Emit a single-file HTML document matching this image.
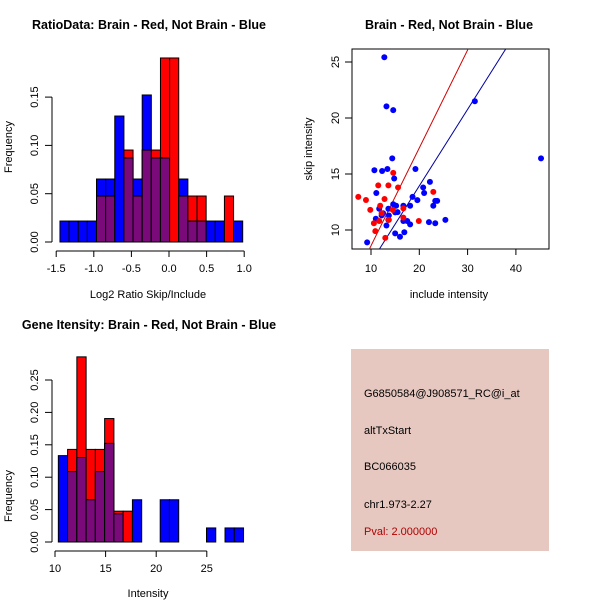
<!DOCTYPE html>
<html><head><meta charset="utf-8"><style>
body{margin:0;background:#fff}
svg{display:block;font-family:"Liberation Sans",sans-serif}
.t{font-weight:bold;font-size:12.5px}
.l{font-size:11px}
</style></head><body>
<svg id="s" width="600" height="600" viewBox="0 0 600 600">
<text class="t" x="149" y="29" text-anchor="middle">RatioData: Brain - Red, Not Brain - Blue</text>
<text class="t" x="449" y="29" text-anchor="middle">Brain - Red, Not Brain - Blue</text>
<text class="t" x="149" y="329" text-anchor="middle">Gene Itensity: Brain - Red, Not Brain - Blue</text>
<text class="l" x="148" y="298" text-anchor="middle">Log2 Ratio Skip/Include</text>
<text class="l" x="148" y="597" text-anchor="middle">Intensity</text>
<text class="l" x="449" y="298" text-anchor="middle">include intensity</text>
<text class="l" transform="translate(12,147) rotate(-90)" text-anchor="middle">Frequency</text>
<text class="l" transform="translate(12,496) rotate(-90)" text-anchor="middle">Frequency</text>
<text class="l" transform="translate(312,149) rotate(-90)" text-anchor="middle">skip intensity</text>
<g>
<rect x="351" y="349" width="198" height="202" fill="#e6c8c0"/>
<text class="l" x="364" y="397">G6850584@J908571_RC@i_at</text>
<text class="l" x="364" y="434">altTxStart</text>
<text class="l" x="364" y="470">BC066035</text>
<text class="l" x="364" y="508">chr1.973-2.27</text>
<text class="l" x="364" y="535" fill="#b00000">Pval: 2.000000</text>
</g>
</svg>
<script>
// Ratio histogram data
const ratioBreakStart=-1.45, ratioBinWidth=0.1215;
const ratioBlue=[0.0217,0.0217,0.0217,0.0217,0.0652,0.0652,0.1304,0.087,0.0652,0.1522,0.087,0.087,0,0.0652,0.0217,0.0217,0.0217,0.0217,0,0.0217];
const ratioRed=[0,0,0,0,0.0476,0.0476,0,0.0952,0.0476,0.0952,0.0952,0.1905,0.1905,0.0476,0.0476,0.0476,0,0,0.0476,0];
const ratioXTicks=[-1.5,-1.0,-0.5,0.0,0.5,1.0];
const ratioXLabels=["-1.5","-1.0","-0.5","0.0","0.5","1.0"];
const ratioYTicks=[0,0.05,0.10,0.15];
const ratioYLabels=["0.00","0.05","0.10","0.15"];
// Gene intensity histogram data
const geneBreakStart=10.33, geneBinWidth=0.915;
const geneBlue=[0.1333,0.1087,0.1304,0.0652,0.1087,0.1522,0.0435,0,0.0652,0,0,0.0652,0.0652,0,0,0,0.0217,0,0.0217,0.0217];
const geneRed=[0,0.1429,0.2857,0.1429,0.1429,0.1905,0.0476,0.0476,0,0,0,0,0,0,0,0,0,0,0,0];
const geneXTicks=[10,15,20,25];
const geneYTicks=[0,0.05,0.10,0.15,0.20,0.25];
const geneYLabels=["0.00","0.05","0.10","0.15","0.20","0.25"];
// Scatter data
const blueX=[12.76,13.2,14.6,31.5,45.2,14.4,10.7,12.3,13.4,19.2,14.8,22.2,20.8,21.0,11.1,18.6,19.6,23.3,23.7,22.9,18.1,16.7,15.2,14.6,11.7,13.6,15.5,15.0,12.5,12.2,11.0,13.6,16.7,17.5,18.1,22.0,23.3,25.4,13.2,15.0,16.9,16.0,9.2,13.7];
const blueY=[25.42,21.04,20.7,21.5,16.4,16.4,15.33,15.27,15.45,15.45,14.6,14.3,13.8,13.3,13.3,12.96,12.67,12.6,12.6,12.16,12.16,12.16,12.16,12.3,11.9,11.9,11.6,11.57,11.5,11.3,11.0,10.9,10.8,10.8,10.5,10.7,10.6,10.9,10.4,9.7,9.8,9.4,8.9,11.3];
const redX=[7.37,8.96,9.85,14.6,11.5,13.6,15.6,12.8,22.9,11.9,14.5,16.7,12.2,16.7,13.7,11.7,10.6,19.9,10.9,12.96];
const redY=[12.96,12.68,11.8,15.1,13.98,13.98,13.8,12.77,13.4,12.16,11.8,11.93,11.5,11.1,10.9,10.8,10.6,10.8,9.9,9.3];
const redFit=[-0.15,0.874];
const blueFit=[0.28,0.683];
const scXTicks=[10,20,30,40];
const scYTicks=[10,15,20,25];

const NS="http://www.w3.org/2000/svg";
const svg=document.getElementById('s');
function mk(tag,attrs,parent){const e=document.createElementNS(NS,tag);for(const k in attrs)e.setAttribute(k,attrs[k]);(parent||svg).appendChild(e);return e;}

function hist(blue,red,start,w,sx,sy,prefix){
  const g=mk('g',{});
  
  
  const y0=sy(0);
  for(let i=0;i<blue.length;i++){
    const x1=sx(start+i*w),x2=sx(start+(i+1)*w);
    const b=blue[i],r=red[i],m=Math.min(b,r);
    if(b>0){const e=mk('rect',{x:x1,y:sy(b),width:x2-x1,height:y0-sy(b),fill:'#0000ff',stroke:'#000','stroke-width':1},g);
      
      }
    if(r>0){const e=mk('rect',{x:x1,y:sy(r),width:x2-x1,height:y0-sy(r),fill:'#ff0000',stroke:'#000','stroke-width':1},g);
      
      }
    if(m>0){const e=mk('rect',{x:x1,y:sy(m),width:x2-x1,height:y0-sy(m),fill:'#7a0a7a',stroke:'#000','stroke-width':1},g);
      
      }
  }
}
function xaxis(ticks,labels,sx,yLine,yLab,prefix){
  const g=mk('g',{stroke:'#000'});
  
  
  mk('line',{x1:sx(ticks[0]),x2:sx(ticks[ticks.length-1]),y1:yLine,y2:yLine},g);
  ticks.forEach((t,i)=>{mk('line',{x1:sx(t),x2:sx(t),y1:yLine,y2:yLine+6},g);
    const tx=mk('text',{x:sx(t),y:yLab,'text-anchor':'middle','font-size':11,stroke:'none'},g);tx.textContent=labels[i];
    
    });
}
function yaxis(ticks,labels,sy,xLine,xLab,prefix){
  const g=mk('g',{stroke:'#000'});
  
  
  mk('line',{x1:xLine,x2:xLine,y1:sy(ticks[0]),y2:sy(ticks[ticks.length-1])},g);
  ticks.forEach((t,i)=>{mk('line',{x1:xLine-7,x2:xLine,y1:sy(t),y2:sy(t)},g);
    const tx=mk('text',{transform:`translate(${xLab},${sy(t)}) rotate(-90)`,'text-anchor':'middle','font-size':11,stroke:'none'},g);tx.textContent=labels[i];
    
    });
}
// Ratio histogram
const rsx=v=>169+v*75.2, rsy=v=>242-v*966;
hist(ratioBlue,ratioRed,ratioBreakStart,ratioBinWidth,rsx,rsy,'ratio');
xaxis(ratioXTicks,ratioXLabels,rsx,251,272,'ratio');
yaxis(ratioYTicks,ratioYLabels,rsy,52,38,'ratio');
// Gene histogram
const gsx=v=>55+(v-10)*10.12, gsy=v=>542-v*648;
hist(geneBlue,geneRed,geneBreakStart,geneBinWidth,gsx,gsy,'gene');
xaxis(geneXTicks,geneXTicks.map(String),gsx,551,572,'gene');
yaxis(geneYTicks,geneYLabels,gsy,52,38,'gene');
// Scatter
const ssx=v=>371+(v-10)*4.83, ssy=v=>230-(v-10)*11.2;
const box=mk('rect',{x:352,y:49,width:197,height:200,fill:'none',stroke:'#000'});


xaxis(scXTicks,scXTicks.map(String),ssx,249,272,'scatter');
yaxis(scYTicks,scYTicks.map(String),ssy,352,339,'scatter');
const clip=mk('clipPath',{id:'cp'});mk('rect',{x:352,y:49,width:197,height:200},clip);
function fitLine(f,col,name){const xa=5,xb=50;
  const l=mk('line',{x1:ssx(xa),y1:ssy(f[0]+f[1]*xa),x2:ssx(xb),y2:ssy(f[0]+f[1]*xb),stroke:col,'stroke-width':1,'clip-path':'url(#cp)'});
  
  }
fitLine(redFit,'#d00000','red-fit-line');
fitLine(blueFit,'#0000a0','blue-fit-line');
blueX.forEach((x,i)=>{const c=mk('circle',{cx:ssx(x),cy:ssy(blueY[i]),r:3,fill:'#0000ff'});
  
  });
redX.forEach((x,i)=>{const c=mk('circle',{cx:ssx(x),cy:ssy(redY[i]),r:3,fill:'#ff0000'});
  
  });
</script>
</body></html>
